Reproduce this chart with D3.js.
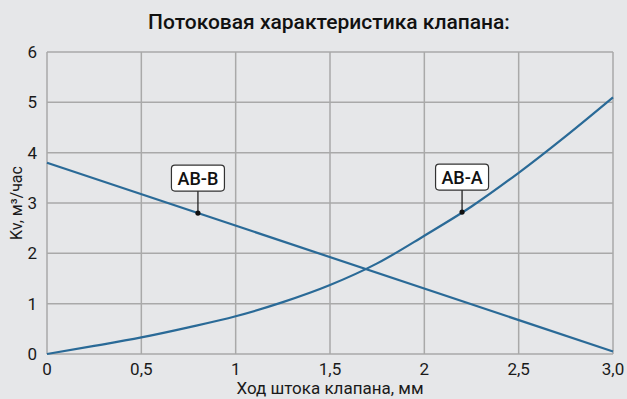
<!DOCTYPE html>
<html>
<head>
<meta charset="utf-8">
<script src="https://cdn.jsdelivr.net/npm/d3@7/dist/d3.min.js"></script>
<style>
  html, body { margin: 0; padding: 0; background: #e6e7e9; }
  svg { display: block; font-family: Roboto, "Noto Sans", sans-serif; }
</style>
</head>
<body>
<svg id="chart" width="627" height="399"></svg>
<script>
// Ход штока клапана, мм
const stroke = [0, 0.25, 0.5, 0.75, 1, 1.25, 1.5, 1.75, 2, 2.25, 2.5, 2.75, 3];
// Kv для прохода AB-A (нарастающая кривая)
const kvAB_A = [0, 0.16, 0.33, 0.53, 0.75, 1.03, 1.37, 1.80, 2.35, 2.93, 3.60, 4.33, 5.1];
// Kv для прохода AB-B (линейное уменьшение)
const strokeB = [0, 3];
const kvAB_B = [3.8, 0.05];
// Подписи кривых и точки привязки
const labelNames = ["AB-B", "AB-A"];
const labelX = [0.8, 2.2];
const labelY = [2.8, 2.82];
// Деления осей
const xTicks = [0, 0.5, 1, 1.5, 2, 2.5, 3];
const xTickLabels = ["0", "0,5", "1", "1,5", "2", "2,5", "3,0"];
const yTicks = [0, 1, 2, 3, 4, 5, 6];

const svg = d3.select("#chart");
const m = { left: 47, right: 14, top: 52, bottom: 45 };
const W = 627, H = 399;
const x = d3.scaleLinear().domain([0, 3]).range([m.left, W - m.right]);
const y = d3.scaleLinear().domain([0, 6]).range([H - m.bottom, m.top]);

const gridColor = "#a9a9a9";

// сетка
svg.append("g").selectAll("line").data(xTicks).join("line")
  .attr("x1", d => x(d)).attr("x2", d => x(d))
  .attr("y1", y(0)).attr("y2", y(6))
  .attr("stroke", gridColor).attr("stroke-width", 1.5);
svg.append("g").selectAll("line").data(yTicks).join("line")
  .attr("y1", d => y(d)).attr("y2", d => y(d))
  .attr("x1", x(0)).attr("x2", x(3))
  .attr("stroke", gridColor).attr("stroke-width", 1.5);

// подписи осей
svg.append("g").selectAll("text").data(yTicks).join("text")
  .attr("x", x(0) - 10).attr("y", d => y(d)).attr("dy", "0.36em")
  .attr("text-anchor", "end").attr("font-size", 17).attr("fill", "#1a1a1a")
  .text(d => d);
svg.append("g").selectAll("text").data(xTicks).join("text")
  .attr("x", d => x(d)).attr("y", y(0) + 21)
  .attr("text-anchor", "middle").attr("font-size", 17).attr("fill", "#1a1a1a")
  .text((d, i) => xTickLabels[i]);

// кривые
const lineColor = "#2a6a97";
const lineA = d3.line().x((d, i) => x(stroke[i])).y(d => y(d)).curve(d3.curveMonotoneX);
svg.append("path").attr("d", lineA(kvAB_A))
  .attr("fill", "none").attr("stroke", lineColor).attr("stroke-width", 2.2);
const lineB = d3.line().x((d, i) => x(strokeB[i])).y(d => y(d));
svg.append("path").attr("d", lineB(kvAB_B))
  .attr("fill", "none").attr("stroke", lineColor).attr("stroke-width", 2.2);

// выноски
labelNames.forEach((name, i) => {
  const px = x(labelX[i]), py = y(labelY[i]);
  const g = svg.append("g");
  g.append("line").attr("x1", px).attr("x2", px).attr("y1", py).attr("y2", py - 22)
    .attr("stroke", "#222").attr("stroke-width", 1.3);
  g.append("circle").attr("cx", px).attr("cy", py).attr("r", 2.6).attr("fill", "#111");
  const bw = 53, bh = 26;
  g.append("rect").attr("x", px - bw / 2).attr("y", py - 22 - bh)
    .attr("width", bw).attr("height", bh).attr("rx", 3.5)
    .attr("fill", "#fff").attr("stroke", "#333").attr("stroke-width", 1.2);
  g.append("text").attr("x", px).attr("y", py - 22 - bh / 2).attr("dy", "0.36em")
    .attr("text-anchor", "middle").attr("font-size", 18).attr("font-weight", 500)
    .attr("fill", "#111").text(name);
});

// заголовок
svg.append("text").attr("x", 329).attr("y", 29).attr("text-anchor", "middle")
  .attr("font-size", 21).attr("font-weight", 500).attr("fill", "#111")
  .text("Потоковая характеристика клапана:");

// названия осей
svg.append("text").attr("x", 330).attr("y", 394).attr("text-anchor", "middle")
  .attr("font-size", 17).attr("fill", "#1a1a1a").text("Ход штока клапана, мм");
svg.append("text").attr("transform", `translate(22,${y(3)}) rotate(-90)`)
  .attr("text-anchor", "middle").attr("font-size", 16).attr("fill", "#1a1a1a")
  .text("Kv, м³/час");
</script>
</body>
</html>
